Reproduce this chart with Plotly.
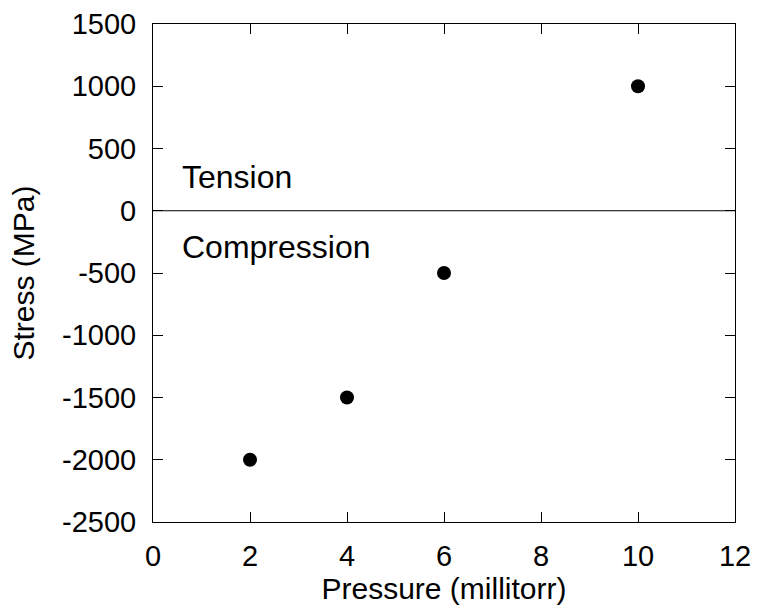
import plotly.graph_objects as go

pressure = [2, 4, 6, 10]
stress = [-2000, -1500, -500, 1000]
x_ticks = [0, 2, 4, 6, 8, 10, 12]
y_ticks = [-2500, -2000, -1500, -1000, -500, 0, 500, 1000, 1500]

font_family = "Liberation Sans, Arial, Helvetica, sans-serif"

fig = go.Figure()
fig.add_trace(go.Scatter(
    x=pressure, y=stress, mode="markers",
    marker=dict(color="black", size=14),
    showlegend=False,
))

fig.add_shape(type="line", xref="paper", x0=0, x1=1, yref="y", y0=0, y1=0,
              line=dict(color="black", width=1))

fig.add_annotation(x=0.55, y=275, xref="x", yref="y", text="Tension",
                   showarrow=False, xanchor="left", yanchor="middle",
                   font=dict(size=32, color="black", family=font_family))
fig.add_annotation(x=0.55, y=-290, xref="x", yref="y", text="Compression",
                   showarrow=False, xanchor="left", yanchor="middle",
                   font=dict(size=32, color="black", family=font_family))

axis_common = dict(
    showgrid=False, zeroline=False, showline=True, linecolor="black", linewidth=1,
    mirror="allticks", ticks="inside", ticklen=10, tickcolor="black", tickwidth=1,
    tickfont=dict(size=29, color="black", family=font_family),
    automargin=False,
)

fig.update_xaxes(range=[0, 12], tickvals=x_ticks, ticktext=[str(v) for v in x_ticks],
                 ticklabelstandoff=8,
                 title=dict(text="Pressure (millitorr)", standoff=4,
                            font=dict(size=30, color="black", family=font_family)),
                 **axis_common)
fig.update_yaxes(range=[-2500, 1500], tickvals=y_ticks, ticktext=[str(v) for v in y_ticks],
                 ticklabelstandoff=10,
                 title=dict(text="Stress (MPa)", standoff=18,
                            font=dict(size=30, color="black", family=font_family)),
                 **axis_common)

fig.update_layout(
    width=757, height=609,
    margin=dict(l=153, r=22, t=24, b=87),
    plot_bgcolor="white", paper_bgcolor="white",
    font=dict(family=font_family, color="black"),
)

fig.write_html("out.html")
